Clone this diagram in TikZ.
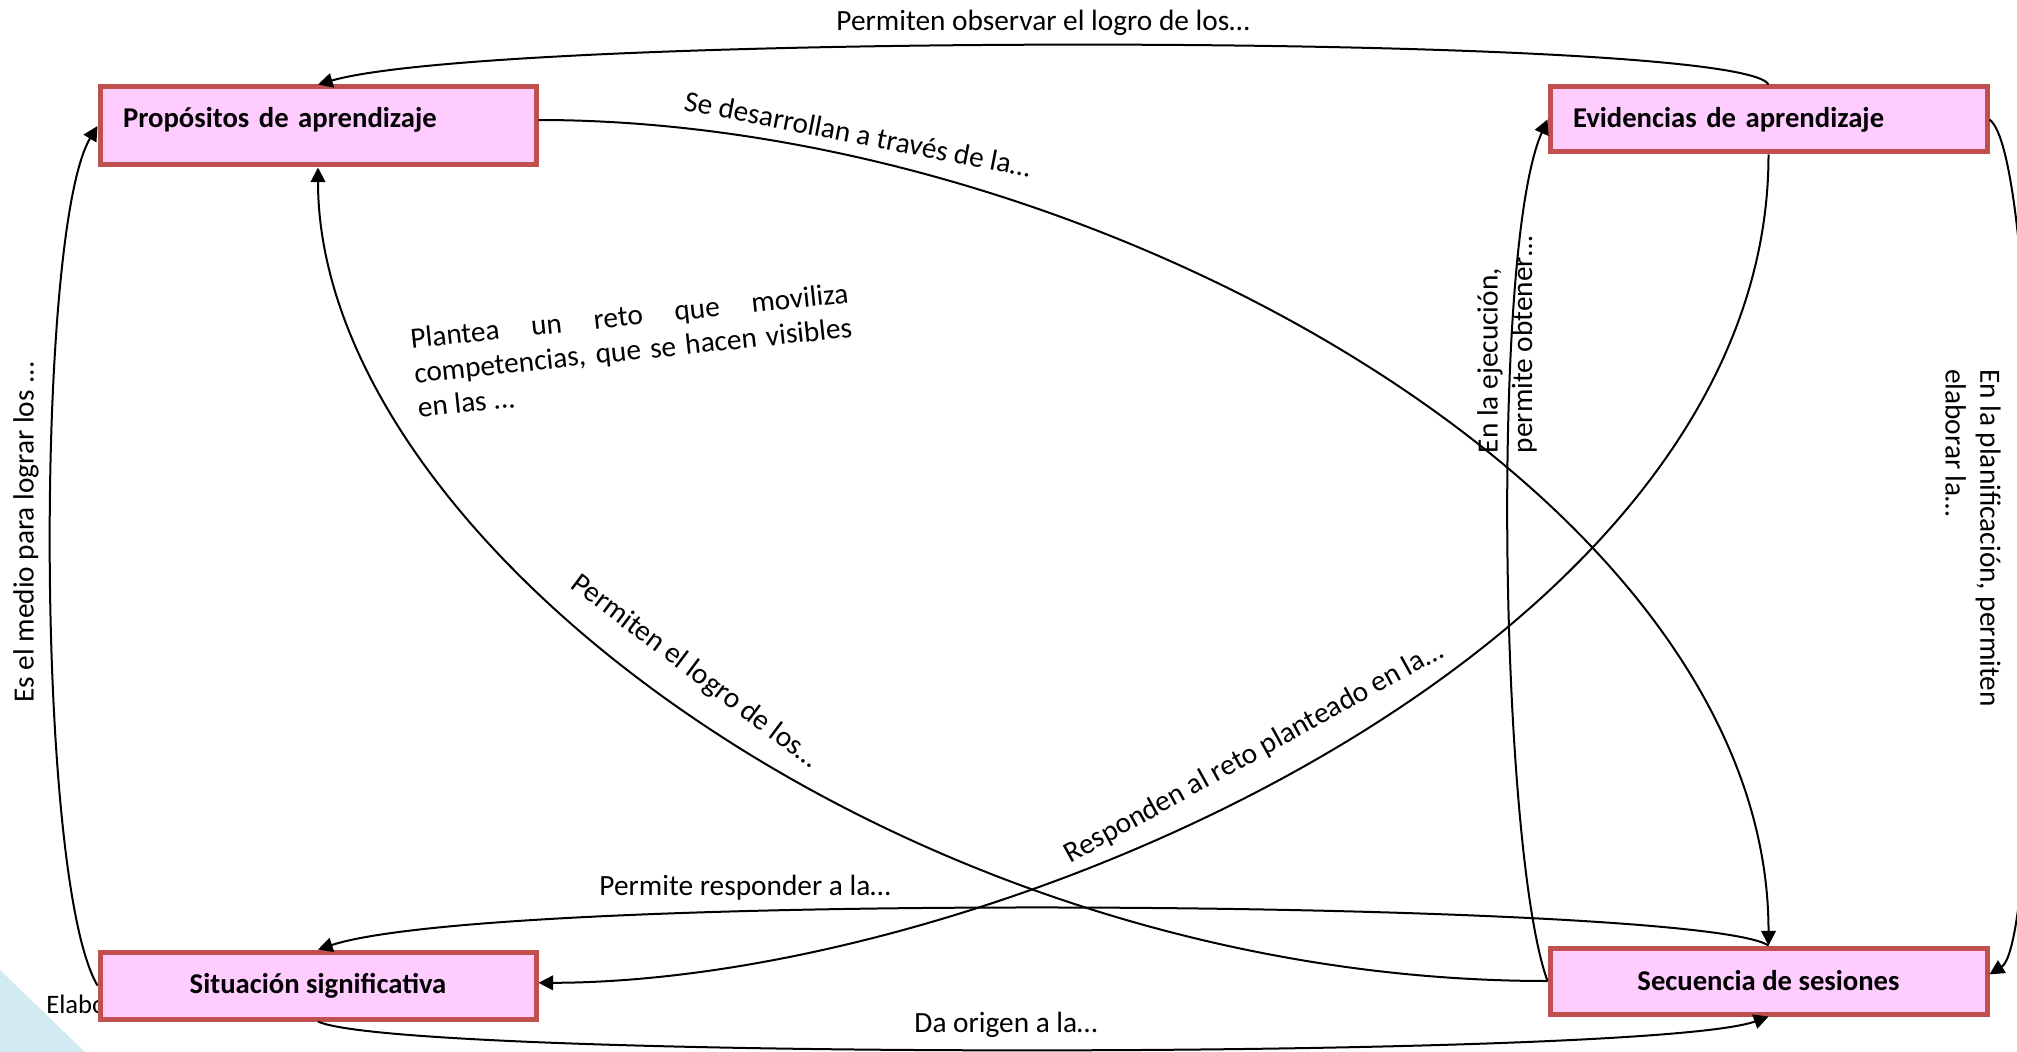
\documentclass[tikz,border=0pt]{standalone}
\usepackage{fontspec}
\setmainfont{Carlito}
\usetikzlibrary{arrows.meta}
\definecolor{boxfill}{RGB}{255,204,255}
\definecolor{boxline}{RGB}{192,80,77}
\definecolor{cornerblue}{RGB}{210,234,241}
\begin{document}
\begin{tikzpicture}[x=0.75pt,y=-0.75pt,
  concept/.style={draw=boxline, line width=3.75pt, fill=boxfill,
    font=\fontsize{21.5}{25}\selectfont\bfseries, inner sep=0pt},
  link/.style={line width=1.5pt, -{Triangle[length=11pt,width=11pt]}},
  lbl/.style={font=\fontsize{22}{26}\selectfont, inner sep=0pt},
]
\useasboundingbox (0,0) rectangle (2017,1052);
\clip (0,0) rectangle (2017,1052);

% corner decoration
\fill[cornerblue] (0,970) -- (85,1052) -- (0,1052) -- cycle;
\node[lbl, anchor=west, font=\fontsize{20}{24}\selectfont] (credit) at (46,1006) {Elaboración propia};

% concepts
\node[concept, minimum width=436*0.75pt, minimum height=78*0.75pt,
      text width=390*0.75pt, align=left, text height=16.5pt, text depth=14.5pt]
      (P) at (318,126) {Propósitos de aprendizaje};
\node[concept, minimum width=437*0.75pt, minimum height=65*0.75pt,
      text width=391*0.75pt, align=left] (E) at (1768.5,119.5) {Evidencias de aprendizaje};
\node[concept, minimum width=436*0.75pt, minimum height=67*0.75pt] (S) at (318,985.5) {Situación significativa};
\node[concept, minimum width=437*0.75pt, minimum height=66*0.75pt] (Q) at (1768.5,981) {Secuencia de sesiones};

% connectors
\draw[link] (E.north) .. controls (1740,32) and (500,32) .. (P.north);
\draw[link] ([yshift=4.5pt]P.east) .. controls (1100,120) and (1769,500) .. (Q.north);
\draw[link] (E.south) .. controls (1769,645) and (1000,982) .. ([yshift=2pt]S.east);
\draw[link] (Q.west) .. controls (900,981) and (318,540) .. (P.south);
\draw[link] (Q.west) .. controls (1500,850) and (1490,250) .. (E.west);
\draw[link] (E.east) .. controls (2045,160) and (2045,940) .. ([yshift=5pt]Q.east);
\draw[link] (S.west) .. controls (35,880) and (35,230) .. (P.west);
\draw[link] (Q.north) .. controls (1700,900) and (500,890) .. (S.north);
\draw[link] (S.south) .. controls (400,1060) and (1650,1060) .. (Q.south);

% connector labels
\node[lbl] (l1) at (1043,23) {Permiten observar el logro de los…};
\node[lbl, rotate=-11] (l2) at (858,134) {Se desarrollan a través de la…};
\node[lbl, rotate=6, text width=440*0.75pt, align=justify] (l3) at (633,350)
  {Plantea un reto que moviliza\linebreak competencias, que se hacen visibles\linebreak en las ...};
\node[lbl, rotate=-37] (l4) at (695,672) {Permiten el logro de los…};
\node[lbl, rotate=29] (l5) at (1254,753) {Responden al reto planteado en la…};
\node[lbl, rotate=90, align=left] (l6) at (1507,345) {En la ejecución,\\permite obtener…};
\node[lbl, rotate=-90, align=left] (l7) at (1973,538) {En la planificación, permiten\\elaborar la…};
\node[lbl, rotate=90] (l8) at (26,532) {Es el medio para lograr los ...};
\node[lbl] (l9) at (745,888) {Permite responder a la…};
\node[lbl] (l10) at (1006,1025) {Da origen a la…};
\end{tikzpicture}
\end{document}
